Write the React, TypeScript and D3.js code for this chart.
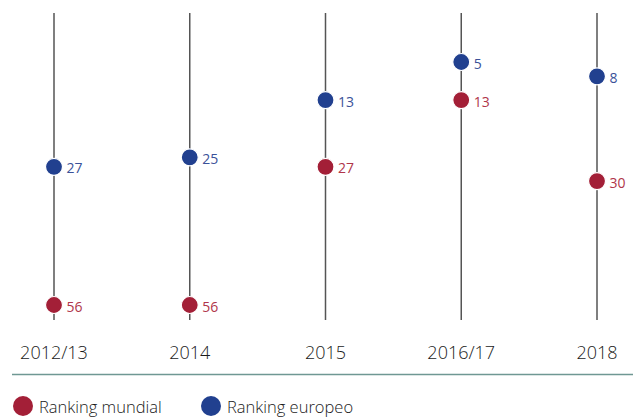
import React from "react";
import * as d3 from "d3";

const categories = ["2012/13", "2014", "2015", "2016/17", "2018"];
const rankingMundial = [56, 56, 27, 13, 30];
const rankingEuropeo = [27, 25, 13, 5, 8];
const seriesNames = ["Ranking mundial", "Ranking europeo"];

const W = 633;
const H = 417;
const RED = "#a31f37";
const BLUE = "#21408f";
const FONT = "'Open Sans', 'Noto Sans', sans-serif";

export default function App() {
  const x = d3.scalePoint<string>().domain(categories).range([54, 597]);
  const y = d3.scaleLinear().domain([5, 56]).range([62, 305]);
  const lineTop = 13;
  const lineBottom = 320;

  const series = [
    { name: seriesNames[0], values: rankingMundial, color: RED, text: "#b0354a" },
    { name: seriesNames[1], values: rankingEuropeo, color: BLUE, text: "#3a5299" },
  ];

  return (
    <svg
      width={W}
      height={H}
      style={{ position: "absolute", left: 0, top: 0 }}
      fontFamily={FONT}
    >
      <rect width={W} height={H} fill="#fff" />
      {categories.map((c) => (
        <line
          key={c}
          x1={x(c)}
          x2={x(c)}
          y1={lineTop}
          y2={lineBottom}
          stroke="#555"
          strokeWidth={1.5}
        />
      ))}
      {series.map((s) =>
        s.values.map((v, i) => {
          const cx = x(categories[i])!;
          const cy = y(v);
          return (
            <g key={s.name + i}>
              <circle cx={cx} cy={cy} r={8.5} fill={s.color} stroke="#fff" strokeWidth={1.2} />
              <text x={cx + 12.5} y={cy + 6.5} fontSize={14} fill={s.text}>
                {v}
              </text>
            </g>
          );
        })
      )}
      {categories.map((c) => (
        <text key={c} x={x(c)} y={359} fontSize={18} fontWeight={300} fill="#1a1a1a" textAnchor="middle">
          {c}
        </text>
      ))}
      <line x1={12} x2={W} y1={374.5} y2={374.5} stroke="#6f9893" strokeWidth={1.5} />
      {series.map((s, i) => {
        const lx = i === 0 ? 23 : 211;
        return (
          <g key={s.name}>
            <circle cx={lx} cy={406} r={10} fill={s.color} />
            <text x={lx + 16} y={412.5} fontSize={16.5} fontWeight={300} fill="#1a1a1a">
              {s.name}
            </text>
          </g>
        );
      })}
    </svg>
  );
}
